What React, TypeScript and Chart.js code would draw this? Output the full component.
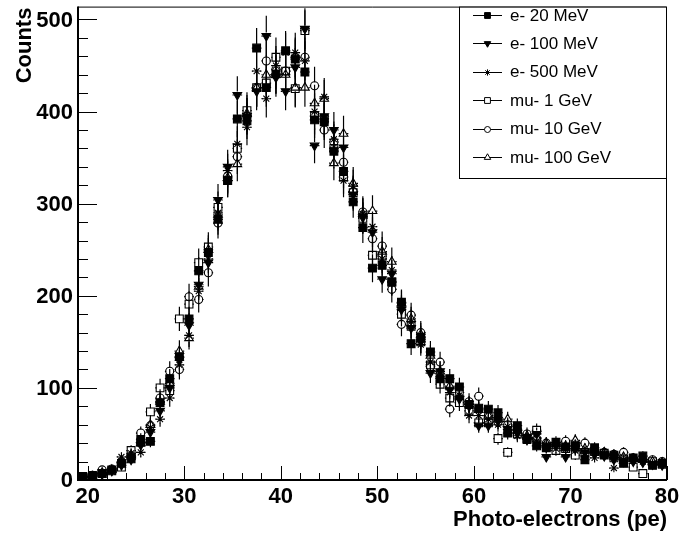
import React, { useEffect, useRef } from 'react';
import { Chart, registerables } from 'chart.js';
import { drawPoint } from 'chart.js/helpers';

Chart.register(...registerables);

// Histogram binning (1 pe per bin, first bin starts at 19 pe)
const BIN_LOW = 19;
const BIN_WIDTH = 1;

// Axis ranges and labelled ticks
const X_MIN = 19;
const X_MAX = 80;
const Y_MIN = 0;
const Y_MAX = 514;
const X_TICKS = [20, 30, 40, 50, 60, 70, 80];
const Y_TICKS = [0, 100, 200, 300, 400, 500];

const X_TITLE = 'Photo-electrons (pe)';
const Y_TITLE = 'Counts';

// Counts per bin for each beam configuration
const e20MeV = [4, 5, 7, 11, 18, 23, 44, 42, 84, 110, 134, 175, 227, 247, 283, 325, 392, 390, 469, 426, 441, 466, 457, 443, 391, 389, 357, 335, 302, 274, 230, 233, 215, 193, 148, 155, 139, 110, 110, 101, 82, 78, 77, 73, 51, 59, 45, 37, 35, 41, 36, 37, 22, 35, 27, 27, 18, 24, 26, 16, 18];
const e100MeV = [3, 4, 6, 10, 16, 22, 38, 52, 75, 100, 130, 168, 212, 236, 304, 340, 418, 395, 422, 482, 437, 422, 448, 490, 363, 395, 380, 361, 310, 285, 269, 218, 224, 185, 165, 150, 116, 118, 98, 88, 80, 59, 59, 65, 55, 51, 46, 50, 25, 38, 25, 34, 30, 28, 26, 22, 21, 20, 19, 17, 16];
const e500MeV = [3, 4, 7, 9, 25, 29, 30, 57, 66, 89, 125, 157, 205, 240, 290, 336, 365, 383, 444, 414, 450, 464, 464, 455, 400, 416, 370, 325, 319, 289, 275, 240, 228, 187, 172, 147, 128, 112, 95, 92, 70, 70, 66, 60, 58, 48, 45, 42, 38, 34, 33, 32, 29, 24, 28, 13, 22, 21, 20, 18, 17];
const mu1GeV = [3, 4, 7, 10, 14, 32, 41, 74, 100, 97, 175, 191, 236, 253, 296, 325, 360, 401, 426, 431, 459, 444, 425, 488, 395, 392, 360, 329, 312, 284, 244, 243, 215, 180, 167, 150, 125, 104, 89, 84, 75, 62, 62, 45, 30, 50, 44, 54, 36, 32, 34, 27, 30, 31, 29, 24, 23, 14, 7, 20, 17];
const mu10GeV = [3, 5, 11, 12, 20, 26, 51, 59, 89, 118, 120, 199, 196, 225, 279, 330, 351, 395, 426, 455, 446, 444, 459, 459, 428, 380, 367, 345, 313, 291, 262, 254, 207, 169, 179, 160, 123, 128, 77, 95, 85, 91, 70, 63, 60, 55, 50, 45, 40, 38, 42, 38, 40, 33, 30, 28, 30, 24, 22, 22, 20];
const mu100GeV = [2, 4, 8, 11, 19, 27, 40, 60, 85, 105, 140, 154, 210, 250, 288, 328, 343, 398, 426, 440, 440, 440, 426, 426, 409, 414, 344, 376, 322, 289, 292, 248, 237, 192, 175, 158, 135, 118, 102, 90, 82, 76, 70, 66, 66, 54, 48, 46, 40, 39, 37, 43, 34, 32, 30, 27, 25, 23, 22, 20, 19];

const SERIES_LABELS = ['e- 20 MeV', 'e- 100 MeV', 'e- 500 MeV', 'mu- 1 GeV', 'mu- 10 GeV', 'mu- 100 GeV'];
const SERIES_COUNTS = [e20MeV, e100MeV, e500MeV, mu1GeV, mu10GeV, mu100GeV];

// Marker style per series (ROOT-like: full square, full down-triangle, star, open square, open circle, open triangle)
const MARKERS = [
  { pointStyle: 'rect', rotation: 0, radius: 5.5, filled: true },
  { pointStyle: 'triangle', rotation: 180, radius: 5, filled: true },
  { pointStyle: 'star', rotation: 0, radius: 4.2, filled: false },
  { pointStyle: 'rect', rotation: 0, radius: 5.5, filled: false },
  { pointStyle: 'circle', rotation: 0, radius: 4, filled: false },
  { pointStyle: 'triangle', rotation: 0, radius: 5, filled: false },
];

const FONT = '"Liberation Sans", Arial, Helvetica, sans-serif';

const binCenter = (i: number) => BIN_LOW + BIN_WIDTH * (i + 0.5);
// Poisson uncertainty on each bin
const poissonError = (n: number) => Math.sqrt(n);

const rootStylePlugin = {
  id: 'rootStyle',
  beforeDatasetsDraw(chart: any) {
    const { ctx, chartArea, scales } = chart;
    const xs = scales.x;
    const ys = scales.y;
    ctx.save();
    ctx.beginPath();
    ctx.rect(chartArea.left, chartArea.top, chartArea.right - chartArea.left, chartArea.bottom - chartArea.top);
    ctx.clip();
    ctx.strokeStyle = '#000';
    ctx.lineWidth = 1.2;
    const gap = 3.5;
    chart.data.datasets.forEach((ds: any) => {
      ds.data.forEach((pt: any) => {
        const err = poissonError(pt.y);
        const px = xs.getPixelForValue(pt.x);
        const py = ys.getPixelForValue(pt.y);
        const yTop = ys.getPixelForValue(pt.y + err);
        const yBot = ys.getPixelForValue(Math.max(pt.y - err, Y_MIN));
        const xl = xs.getPixelForValue(pt.x - BIN_WIDTH / 2);
        const xr = xs.getPixelForValue(pt.x + BIN_WIDTH / 2);
        ctx.beginPath();
        if (yTop < py - gap) {
          ctx.moveTo(px, yTop);
          ctx.lineTo(px, py - gap);
        }
        if (yBot > py + gap) {
          ctx.moveTo(px, py + gap);
          ctx.lineTo(px, yBot);
        }
        ctx.moveTo(xl, py);
        ctx.lineTo(px - gap, py);
        ctx.moveTo(px + gap, py);
        ctx.lineTo(xr, py);
        ctx.stroke();
      });
    });
    ctx.restore();
  },
  afterDraw(chart: any) {
    const { ctx, chartArea, scales } = chart;
    const xs = scales.x;
    const ys = scales.y;
    const { left, right, top, bottom } = chartArea;
    ctx.save();
    ctx.strokeStyle = '#000';
    ctx.fillStyle = '#000';

    // frame
    ctx.lineWidth = 1;
    ctx.beginPath();
    ctx.moveTo(left, top + 0.5);
    ctx.lineTo(right - 0.5, top + 0.5);
    ctx.lineTo(right - 0.5, bottom);
    ctx.stroke();
    ctx.lineWidth = 2;
    ctx.beginPath();
    ctx.moveTo(left, top);
    ctx.lineTo(left, bottom);
    ctx.lineTo(right, bottom);
    ctx.stroke();

    // ticks pointing into the frame
    ctx.lineWidth = 1;
    ctx.beginPath();
    for (let v = Y_MIN; v <= Y_MAX; v += 20) {
      const py = Math.round(ys.getPixelForValue(v)) + 0.5;
      const len = v % 100 === 0 ? 19 : 10;
      ctx.moveTo(left, py);
      ctx.lineTo(left + len, py);
    }
    for (let v = 20; v <= X_MAX; v += 2) {
      const px = Math.round(xs.getPixelForValue(v)) + 0.5;
      const len = v % 10 === 0 ? 14 : 7;
      ctx.moveTo(px, bottom);
      ctx.lineTo(px, bottom - len);
    }
    ctx.stroke();

    // tick labels
    ctx.font = `bold 22px ${FONT}`;
    ctx.textAlign = 'right';
    ctx.textBaseline = 'middle';
    Y_TICKS.forEach((v) => {
      ctx.fillText(String(v), left - 5, ys.getPixelForValue(v) + 1);
    });
    ctx.textAlign = 'center';
    ctx.textBaseline = 'alphabetic';
    X_TICKS.forEach((v) => {
      ctx.fillText(String(v), xs.getPixelForValue(v), bottom + 23);
    });

    // axis titles
    ctx.textAlign = 'right';
    ctx.fillText(X_TITLE, right, bottom + 46);
    ctx.save();
    ctx.translate(31, top + 1);
    ctx.rotate(-Math.PI / 2);
    ctx.textAlign = 'right';
    ctx.fillText(Y_TITLE, 0, 0);
    ctx.restore();

    // legend
    const lx0 = 459.5;
    const lx1 = right - 0.5;
    const ly0 = top + 0.5;
    const ly1 = 178.5;
    ctx.fillStyle = '#fff';
    ctx.fillRect(lx0, ly0, lx1 - lx0, ly1 - ly0);
    ctx.lineWidth = 1;
    ctx.strokeStyle = '#000';
    ctx.strokeRect(lx0, ly0, lx1 - lx0, ly1 - ly0);
    ctx.font = `17px ${FONT}`;
    ctx.textAlign = 'left';
    ctx.textBaseline = 'middle';
    SERIES_LABELS.forEach((label, i) => {
      const cy = 15 + i * 28.4;
      ctx.strokeStyle = '#000';
      ctx.lineWidth = 1;
      ctx.beginPath();
      ctx.moveTo(473, Math.round(cy) + 0.5);
      ctx.lineTo(502, Math.round(cy) + 0.5);
      ctx.stroke();
      const m = MARKERS[i];
      ctx.fillStyle = m.filled ? '#000' : '#fff';
      ctx.strokeStyle = '#000';
      ctx.lineWidth = 1;
      drawPoint(ctx, { pointStyle: m.pointStyle as any, rotation: m.rotation, radius: m.radius * 0.75, borderWidth: 1 }, 487.5, Math.round(cy) + 0.5);
      ctx.fillStyle = '#000';
      ctx.fillText(label, 510, cy + 1);
    });

    ctx.restore();
  },
};

export default function App() {
  const canvasRef = useRef<HTMLCanvasElement | null>(null);

  useEffect(() => {
    const canvas = canvasRef.current;
    if (!canvas) return;

    const datasets = SERIES_COUNTS.map((counts, si) => {
      const m = MARKERS[si];
      return {
        label: SERIES_LABELS[si],
        data: counts.map((c, i) => ({ x: binCenter(i), y: c })),
        showLine: false,
        pointStyle: m.pointStyle,
        rotation: m.rotation,
        pointRadius: m.radius,
        pointHoverRadius: m.radius,
        pointBorderWidth: 1.1,
        borderColor: '#000',
        backgroundColor: m.filled ? '#000' : 'rgba(0,0,0,0)',
        pointBackgroundColor: m.filled ? '#000' : 'rgba(0,0,0,0)',
        pointBorderColor: '#000',
      };
    });

    const chart = new Chart(canvas, {
      type: 'scatter',
      data: { datasets },
      options: {
        animation: false,
        responsive: false,
        devicePixelRatio: 1,
        events: [],
        layout: { padding: { top: 0, right: 14, left: 0, bottom: 0 } },
        plugins: {
          legend: { display: false },
          tooltip: { enabled: false },
          title: { display: false },
        },
        scales: {
          x: {
            type: 'linear',
            min: X_MIN,
            max: X_MAX,
            ticks: { display: false, stepSize: 10, includeBounds: false },
            grid: { display: false },
            border: { display: false },
            afterFit: (scale: any) => {
              scale.height = 61;
              scale.paddingLeft = 0;
              scale.paddingRight = 0;
            },
          },
          y: {
            type: 'linear',
            min: Y_MIN,
            max: Y_MAX,
            ticks: { display: false, stepSize: 100, includeBounds: false },
            grid: { display: false },
            border: { display: false },
            afterFit: (scale: any) => {
              scale.width = 78;
              scale.paddingTop = 0;
              scale.paddingBottom = 0;
            },
          },
        },
      } as any,
      plugins: [rootStylePlugin],
    });

    return () => chart.destroy();
  }, []);

  return (
    <div style={{ position: 'fixed', left: 0, top: 0, width: 681, height: 541, background: '#fff' }}>
      <canvas ref={canvasRef} width={681} height={541} style={{ display: 'block', width: 681, height: 541 }} />
    </div>
  );
}
